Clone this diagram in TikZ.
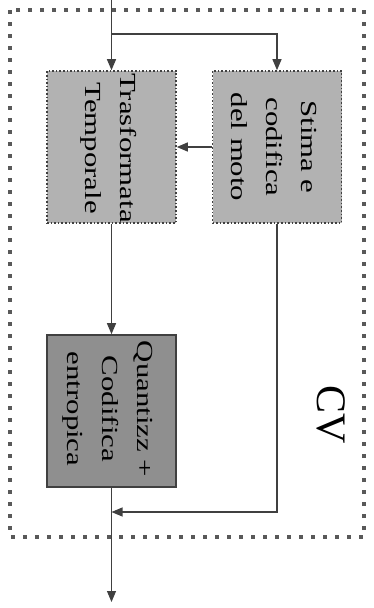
\documentclass[tikz,border=0pt]{standalone}
\usepackage{fontspec}
\usepackage{graphicx}
\setmainfont{Liberation Serif}
\usetikzlibrary{arrows.meta}
\definecolor{lightfill}{gray}{0.70}
\definecolor{darkfill}{gray}{0.56}
\definecolor{inkline}{gray}{0.25}
\newcommand{\sx}[1]{\scalebox{1.34}[1]{#1}}
\tikzset{
  lightbox/.style={draw=inkline, fill=lightfill, dotted, line width=1.6pt, minimum width=129pt, minimum height=152pt, inner sep=0pt},
  darkbox/.style={draw=inkline, fill=darkfill, line width=1.6pt, minimum width=129pt, minimum height=152pt, inner sep=0pt},
  boxtext/.style={rotate=-90, align=center, font=\fontsize{23}{35}\selectfont, inner sep=0pt},
  arr/.style={draw=inkline, line width=1.2pt, -{Triangle[width=9pt,length=11pt]}},
  frame/.style={draw=black!65, line width=4pt, dash pattern=on 4pt off 8pt}
}
\begin{document}
\begin{tikzpicture}[x=1pt,y=-1pt]
\useasboundingbox (0,0) rectangle (374,608);
\draw[frame] (10,10) rectangle (364,537);
\node[lightbox] (tt) at (111.5,147) {};
\node[boxtext] (ttl) at (109,148) {\sx{Trasformata}\\\sx{Temporale}};
\node[lightbox] (sm) at (277,147) {};
\node[boxtext] (sml) at (274,147) {\sx{Stima e}\\\sx{codifica}\\\sx{del moto}};
\node[darkbox] (qc) at (111.5,411) {};
\node[boxtext] (qcl) at (108,409) {\sx{Quantizz +}\\\sx{Codifica}\\\sx{entropica}};
\node[rotate=-90, font=\fontsize{42}{42}\selectfont, inner sep=0pt] (cv) at (331,415) {CV};
\coordinate (in) at (111.5,0);
\coordinate (br) at (111.5,34);
\coordinate (j) at (111.5,512);
\coordinate (out) at (111.5,602);
\draw[arr] (in) -- (tt.north);
\draw[arr] (br) -| (sm.north);
\draw[arr] (sm.west) -- (tt.east);
\draw[arr] (tt.south) -- (qc.north);
\draw[arr] (sm.south) |- (j);
\draw[arr] (qc.south) -- (out);
\end{tikzpicture}
\end{document}
